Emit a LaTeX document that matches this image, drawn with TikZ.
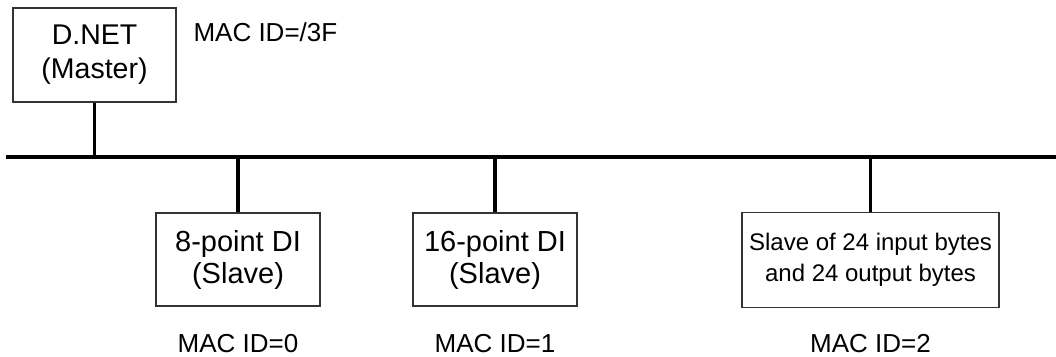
\documentclass[tikz,border=0pt]{standalone}
\usepackage{fontspec}
\setmainfont{Liberation Sans}
\usepackage{tikz}

\begin{document}
\begin{tikzpicture}[x=1pt, y=1pt,
    box/.style={draw=black!80, line width=1.2pt, align=center, inner sep=0pt,
                font=\fontsize{29}{32}\selectfont},
    wire/.style={line width=3.5pt},
    macid/.style={font=\fontsize{26}{30}\selectfont}]

    \useasboundingbox (0,0) rectangle (1056,356);

    % Bus line
    \def\busY{199}
    \coordinate (busL) at (6,\busY);
    \coordinate (busR) at (1056,\busY);
    \draw[line width=4pt] (busL) -- (busR);

    % Master
    \node[box, minimum width=163, minimum height=94,
          font=\fontsize{28.5}{34}\selectfont] (master) at (94.5,301) {D.NET\\(Master)};
    \node[macid, anchor=base west] (masterid) at (190,314) {MAC ID=/3F};

    % Slaves
    \node[box, minimum width=164, minimum height=93] (slaveA) at (238,96.5) {8-point DI\\(Slave)};
    \node[box, minimum width=164, minimum height=93] (slaveB) at (495,96.5) {16-point DI\\(Slave)};
    \node[box, minimum width=257, minimum height=95,
          font=\fontsize{24}{31}\selectfont] (slaveC) at (870.5,96) {Slave of 24 input bytes\\and 24 output bytes};

    % Drops to the bus
    \draw[wire] (master.south) -- (master.south |- busL);
    \draw[wire] (slaveA.north) -- (slaveA.north |- busL);
    \draw[wire] (slaveB.north) -- (slaveB.north |- busL);
    \draw[wire] (slaveC.north) -- (slaveC.north |- busL);

    % MAC IDs below the slaves
    \node[macid, anchor=base] (idA) at (slaveA.center |- 0,4) {MAC ID=0};
    \node[macid, anchor=base] (idB) at (slaveB.center |- 0,4) {MAC ID=1};
    \node[macid, anchor=base] (idC) at (slaveC.center |- 0,4) {MAC ID=2};

\end{tikzpicture}
\end{document}
